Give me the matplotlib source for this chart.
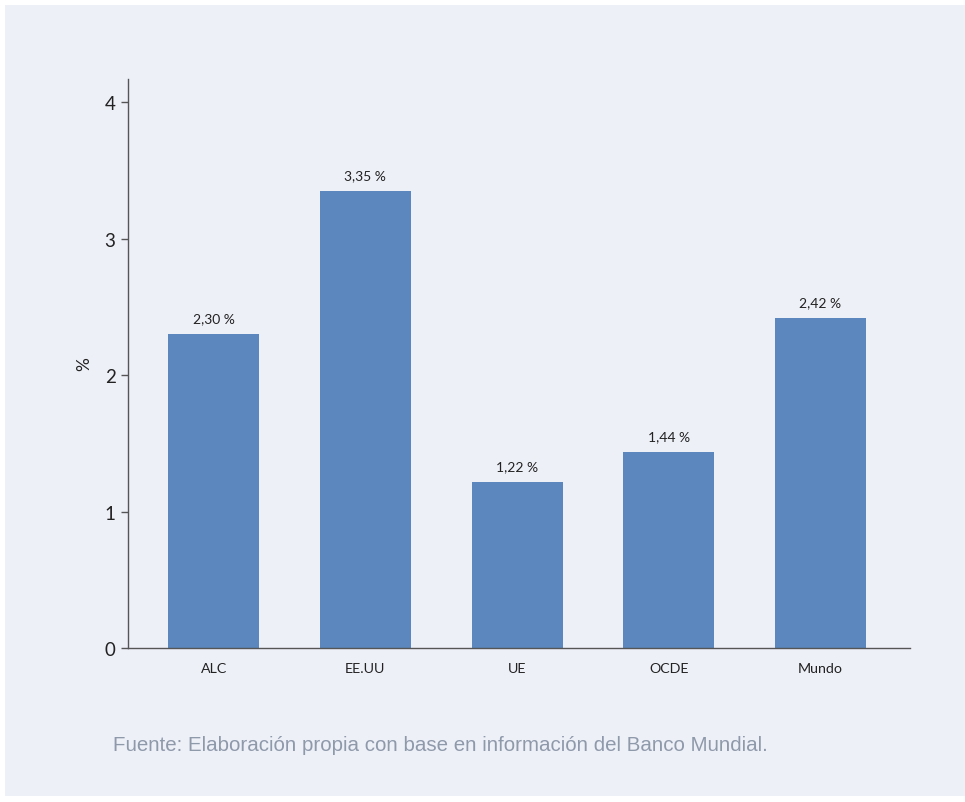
import matplotlib.pyplot as plt
from matplotlib.patches import Rectangle

# ---------- data ----------
regions = ["ALC", "EE.UU", "UE", "OCDE", "Mundo"]
values = [2.30, 3.35, 1.22, 1.44, 2.42]
value_labels = ["2,30 %", "3,35 %", "1,22 %", "1,44 %", "2,42 %"]
yticks = [0, 1, 2, 3, 4]
source = "Fuente: Elaboración propia con base en información del Banco Mundial."

W, H = 965, 803
fig = plt.figure(figsize=(W / 100, H / 100), dpi=100)
fig.patch.set_facecolor("white")

# light lavender panel behind everything
fig.patches.append(Rectangle((5 / W, 6 / H), 1 - 5 / W, (797 - 6) / H,
                             transform=fig.transFigure, facecolor="#EEF0F8",
                             edgecolor="none", zorder=-5))

ax = fig.add_axes([128 / W, 154 / H, (910 - 128) / W, (649 - 80) / H])
ax.set_facecolor("none")
ax.set_zorder(2)

x = range(len(regions))
ax.bar(x, values, width=0.6, color="#5B87BE", zorder=2)

for xi, v, lab in zip(x, values, value_labels):
    ax.annotate(lab, (xi, v), xytext=(0, 7), textcoords="offset points",
                ha="center", va="bottom", fontsize=10, color="#222222",
                family=["Lato", "DejaVu Sans"])

ax.set_xlim(-0.565, 4.59)
ax.set_ylim(0, 4.17)
ax.set_yticks(yticks)
ax.set_yticklabels([str(t) for t in yticks], fontsize=13.5, color="#222222",
                   family=["Lato", "DejaVu Sans"])
ax.set_xticks(list(x))
ax.set_xticklabels(regions, fontsize=10.3, color="#222222",
                   family=["Lato", "DejaVu Sans"])
ax.tick_params(axis="x", length=0, pad=10)
ax.tick_params(axis="y", length=5, width=1, color="#555555", pad=4)

for side in ["top", "right"]:
    ax.spines[side].set_visible(False)
for side in ["left", "bottom"]:
    ax.spines[side].set_color("#555555")
    ax.spines[side].set_linewidth(1)

ax.set_ylabel("%", fontsize=12.5, color="#222222", labelpad=9,
              family=["Lato", "DejaVu Sans"])

fig.text(113 / W, 1 - 746 / H, source, fontsize=14.8, color="#8E99AA",
         ha="left", va="center", family=["Liberation Sans", "DejaVu Sans"])

fig.savefig("out.png", dpi=100, facecolor=fig.get_facecolor())
